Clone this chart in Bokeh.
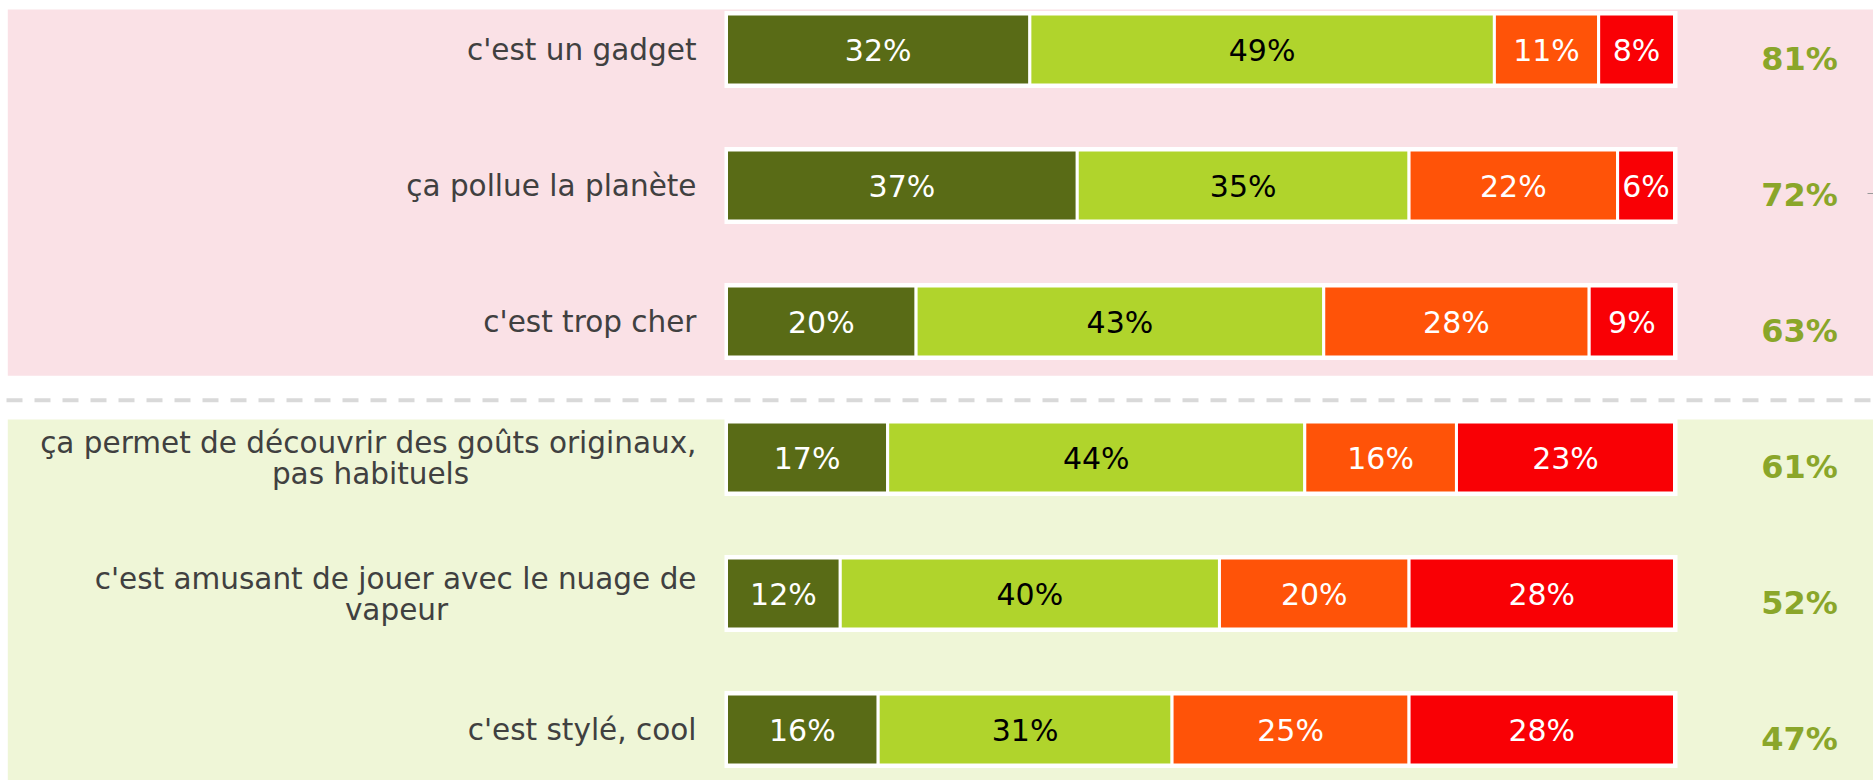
from bokeh.plotting import figure
from bokeh.models import Range1d, ColumnDataSource
from bokeh.core.properties import value
from bokeh.embed import file_html
from bokeh.resources import INLINE

# ---------------- data ----------------
label_line1 = ["c'est un gadget", "ça pollue la planète", "c'est trop cher",
               "ça permet de découvrir des goûts originaux,",
               "c'est amusant de jouer avec le nuage de", "c'est stylé, cool"]
label_line2 = ["", "", "", "pas habituels", "vapeur", ""]
s1 = [32, 37, 20, 17, 12, 16]   # dark olive
s2 = [49, 35, 43, 44, 40, 31]   # light green
s3 = [11, 22, 28, 16, 20, 25]   # orange
s4 = [8, 6, 9, 23, 28, 28]      # red
series = [s1, s2, s3, s4]

# ---------------- layout / style ----------------
W, H = 1873, 780
PX_X = 9.48            # pixels per percentage point
BAR0 = 726             # figure px of 0 %
ROW_PX = 136.0         # pixels between rows
ROW0 = 49.0            # figure px of first row centre
colors = ["#596b16", "#b0d42c", "#ff5308", "#f90005"]
text_colors = ["white", "black", "white", "white"]
FONT = "DejaVu Sans"

x0 = -BAR0 / PX_X
x1 = x0 + W / PX_X
ytop = -ROW0 / ROW_PX
ybot = (H - ROW0) / ROW_PX

p = figure(width=W, height=H, output_backend="svg", toolbar_location=None,
           x_range=Range1d(x0, x1), y_range=Range1d(ybot, ytop),
           min_border=0, outline_line_color=None)
p.axis.visible = False
p.grid.visible = False
p.background_fill_color = "white"
p.border_fill_color = "white"

def ry(px):
    return px / ROW_PX

def rx(px):
    return px / PX_X

n = len(s1)
rows = list(range(n))

# background bands
p.quad(left=[x0 + rx(7.3)], right=[x1 + 1], top=[0 - ry(40)], bottom=[2 + ry(54.3)],
       fill_color="#fae1e6", line_color=None)
p.quad(left=[x0 + rx(7.3)], right=[x1 + 1], top=[3 - ry(38)], bottom=[5 + ry(80)],
       fill_color="#eff6d7", line_color=None)
# dashed separator
ysep = 2 + ry(78.7)
p.line(x=[x0 + rx(6), x1 + 1], y=[ysep, ysep], line_color="#d9d9d9",
       line_width=4, line_dash="16 12")
# small grey tick at the right edge
p.line(x=[x1 - rx(6), x1 + 1], y=[1 + ry(8), 1 + ry(8)], line_color="#9a9a9a",
       line_width=1)

# white backing of each bar
p.hbar(y=rows, left=-rx(2), right=100 + rx(3), height=ry(77),
       fill_color="white", line_color=None)

# stacked segments
cum = [0] * n
for k, s in enumerate(series):
    left = cum[:]
    right = [a + b for a, b in zip(cum, s)]
    mid = [(a + b) / 2 for a, b in zip(left, right)]
    src = ColumnDataSource(dict(y=rows, left=left, right=right, mid=mid,
                                txt=[f"{v}%" for v in s]))
    p.hbar(y="y", left="left", right="right", height=ry(71), source=src,
           fill_color=colors[k], line_color="white", line_width=3)
    p.text(x="mid", y="y", text="txt", source=src, text_align="center",
           text_baseline="middle", text_color=text_colors[k],
           text_font=value(FONT), text_font_size="30px", y_offset=1)
    cum = right

# category labels
LBL = "29.5px"
single = [i for i in rows if not label_line2[i]]
double = [i for i in rows if label_line2[i]]
p.text(x=[0] * len(single), y=single, text=[label_line1[i] for i in single],
       x_offset=-30, text_align="right", text_baseline="middle",
       text_color="#404040", text_font=value(FONT), text_font_size=LBL)
p.text(x=[0] * len(double), y=double, text=[label_line1[i] for i in double],
       x_offset=-30, y_offset=-15, text_align="right", text_baseline="middle",
       text_color="#404040", text_font=value(FONT), text_font_size=LBL)
line2_dx = {3: -356, 4: -330}
for i in double:
    p.text(x=[0], y=[i], text=[label_line2[i]], x_offset=line2_dx[i], y_offset=16,
           text_align="center", text_baseline="middle",
           text_color="#404040", text_font=value(FONT), text_font_size=LBL)

# totals (sum of the two positive series)
totals = [a + b for a, b in zip(s1, s2)]
p.text(x=[100] * n, y=rows, text=[f"{t}%" for t in totals], x_offset=125,
       y_offset=9, text_align="center", text_baseline="middle",
       text_color="#8aa62a", text_font=value(FONT), text_font_style="bold",
       text_font_size="32px")

open("out.html", "w").write(file_html(p, INLINE))
